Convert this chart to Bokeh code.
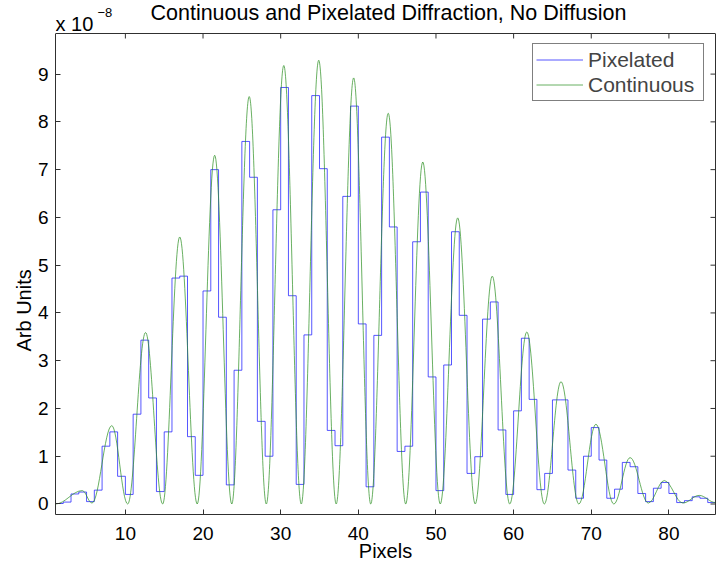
from bokeh.plotting import figure
from bokeh.models import (Range1d, LinearAxis, FixedTicker, Legend, LegendItem,
                          Label, Span, Title)
from bokeh.embed import file_html
from bokeh.resources import INLINE

# ---- data (units of 1e-8) ----
pixel_x = list(range(1, 86))
pixel_values = [0.01, 0.04, 0.21, 0.25, 0.05, 0.29, 1.21, 1.51, 0.58, 0.20,
                1.88, 3.43, 2.22, 0.26, 1.51, 4.73, 4.77, 1.41, 0.60, 4.46,
                7.00, 3.91, 0.40, 2.80, 7.59, 6.84, 1.73, 1.00, 6.16, 8.72,
                4.36, 0.41, 3.54, 8.55, 7.02, 1.54, 1.22, 6.44, 8.33, 3.77,
                0.36, 3.53, 7.68, 5.80, 1.10, 1.21, 5.49, 6.53, 2.66, 0.28,
                2.91, 5.70, 3.95, 0.64, 0.99, 3.87, 4.23, 1.55, 0.20, 1.95,
                3.47, 2.19, 0.30, 0.64, 2.18, 2.18, 0.71, 0.12, 1.00, 1.60,
                0.92, 0.12, 0.31, 0.87, 0.78, 0.22, 0.05, 0.33, 0.45, 0.22,
                0.03, 0.07, 0.15, 0.12, 0.03]

# extrema (troughs / peaks) of the continuous curve
cont_x = [1.0, 4.45, 5.7, 8.25, 10.3, 12.6, 14.8, 17.0, 19.25, 21.5, 23.7,
          25.95, 28.15, 30.4, 32.65, 34.9, 37.15, 39.4, 41.6, 43.85, 46.1,
          48.3, 50.55, 52.8, 55.05, 57.25, 59.5, 61.7, 63.95, 66.1, 68.4,
          70.6, 72.9, 75.0, 77.35, 79.4, 81.8, 83.9, 86.0]
cont_y = [0.0, 0.28, 0.02, 1.64, 0.0, 3.59, 0.0, 5.59, 0.0, 7.30, 0.0,
          8.53, 0.0, 9.18, 0.0, 9.29, 0.0, 8.92, 0.0, 8.18, 0.0,
          7.16, 0.0, 5.99, 0.0, 4.77, 0.0, 3.60, 0.0, 2.56, 0.0,
          1.67, 0.0, 0.97, 0.02, 0.49, 0.02, 0.18, 0.03]

x_ticks = [10, 20, 30, 40, 50, 60, 70, 80]
y_ticks = [0, 1, 2, 3, 4, 5, 6, 7, 8, 9]
series_names = ["Pixelated", "Continuous"]
title_text = "Continuous and Pixelated Diffraction, No Diffusion"
x_label = "Pixels"
y_label = "Arb Units"
exp_base = "x 10"
exp_power = "\u22128"

# ---- layout ----
W, H = 716, 568
LEFT, RIGHT_PAD, BOTTOM = 55, 1, 54
BOX_TOP = 33                      # top edge of the axes box (px from top)
FRAME_W = W - LEFT - RIGHT_PAD
FRAME_H = H - BOTTOM
BOX_H = FRAME_H - BOX_TOP

X_MIN, X_MAX = 1, 86
Y_MIN, Y_MAX = -0.22, 9.85
# the drawing frame extends above the axes box so the header texts fit
Y_TOP = Y_MAX + (Y_MAX - Y_MIN) * BOX_TOP / BOX_H

FONT = "Liberation Sans"
AXIS_COLOR = "#303030"
BLUE = "#1010ff"
GREEN = "#2a8f1f"
TICK_PX = 5

p = figure(width=W, height=H, output_backend="svg", toolbar_location=None,
           x_range=Range1d(X_MIN, X_MAX), y_range=Range1d(Y_MIN, Y_TOP),
           min_border_left=LEFT, min_border_right=RIGHT_PAD, min_border_top=0,
           min_border_bottom=BOTTOM, background_fill_color="white",
           border_fill_color="white")
p.grid.visible = False
p.outline_line_color = None

# stairs (pixelated)
step_x = pixel_x + [pixel_x[-1] + 1]
step_y = pixel_values + [pixel_values[-1]]
r_pix = p.step(step_x, step_y, mode="after", line_color=BLUE, line_width=1,
               line_alpha=0.7)

# smooth continuous curve: cubic Bezier segments between extrema
k = 0.364
x0 = cont_x[:-1]
x1 = cont_x[1:]
y0 = cont_y[:-1]
y1 = cont_y[1:]
cx0 = [a + k * (b - a) for a, b in zip(x0, x1)]
cx1 = [b - k * (b - a) for a, b in zip(x0, x1)]
r_cont = p.bezier(x0=x0, y0=y0, x1=x1, y1=y1, cx0=cx0, cy0=y0, cx1=cx1, cy1=y1,
                  line_color=GREEN, line_width=1, line_alpha=0.7)

# axes
for ax in (p.xaxis[0], p.yaxis[0]):
    ax.axis_line_color = AXIS_COLOR
    ax.major_tick_line_color = AXIS_COLOR
    ax.major_tick_in = TICK_PX
    ax.major_tick_out = 0
    ax.minor_tick_line_color = None
    ax.major_label_text_font = FONT
    ax.major_label_text_font_size = "19px"
    ax.major_label_text_color = "black"
p.xaxis.ticker = FixedTicker(ticks=x_ticks)
p.yaxis.ticker = FixedTicker(ticks=y_ticks)
p.yaxis.bounds = (Y_MIN, Y_MAX)
p.xaxis.major_label_standoff = 12
p.yaxis.major_label_standoff = 7
p.xaxis.axis_label = x_label
p.xaxis.axis_label_standoff = -3
p.xaxis.axis_label_text_font = FONT
p.xaxis.axis_label_text_font_size = "20px"
p.xaxis.axis_label_text_font_style = "normal"
p.xaxis.axis_label_text_color = "black"

right_ax = LinearAxis(ticker=FixedTicker(ticks=[]), bounds=(Y_MIN, Y_MAX),
                      axis_line_color=AXIS_COLOR, major_tick_line_color=None,
                      minor_tick_line_color=None)
p.add_layout(right_ax, "right")

# top edge of the box and inward ticks on top / right
p.add_layout(Span(location=Y_MAX, dimension="width", line_color=AXIS_COLOR,
                  line_width=1))
dy = (Y_MAX - Y_MIN) / BOX_H * TICK_PX
dx = (X_MAX - X_MIN) / FRAME_W * TICK_PX
p.segment(x0=x_ticks, y0=[Y_MAX] * len(x_ticks), x1=x_ticks,
          y1=[Y_MAX - dy] * len(x_ticks), line_color=AXIS_COLOR, line_width=1)
p.segment(x0=[X_MAX] * len(y_ticks), y0=y_ticks, x1=[X_MAX - dx] * len(y_ticks),
          y1=y_ticks, line_color=AXIS_COLOR, line_width=1)

# y label as a left-side title, placed like the reference
p.add_layout(Title(text=y_label, align="left", offset=163, text_font=FONT,
                   text_font_size="20px", text_font_style="normal",
                   text_color="black", standoff=0), "left")

# header texts
p.add_layout(Label(x=(X_MIN + X_MAX) / 2, y=Y_MAX, text=title_text,
                   text_align="center", text_baseline="alphabetic",
                   x_offset=3, y_offset=21, text_font=FONT,
                   text_font_size="21.5px", text_color="black"))
p.add_layout(Label(x=X_MIN, y=Y_MAX, text=exp_base, text_align="left",
                   text_baseline="alphabetic", x_offset=0, y_offset=10,
                   text_font=FONT, text_font_size="20px", text_color="black"))
p.add_layout(Label(x=X_MIN, y=Y_MAX, text=exp_power, text_align="left",
                   text_baseline="alphabetic", x_offset=42, y_offset=21,
                   text_font=FONT, text_font_size="13px", text_color="black"))

LEG_H = 56
legend = Legend(items=[LegendItem(label=series_names[0], renderers=[r_pix]),
                       LegendItem(label=series_names[1], renderers=[r_cont])],
                location=(532 - LEFT, FRAME_H - 45 - LEG_H), padding=3,
                spacing=0, glyph_width=47, glyph_height=25, label_height=25,
                label_width=112, label_standoff=5,
                label_text_font=FONT, label_text_font_size="21px",
                border_line_color="black", border_line_width=1,
                background_fill_color="white", background_fill_alpha=1)
p.add_layout(legend)

open("out.html", "w").write(file_html(p, INLINE))
